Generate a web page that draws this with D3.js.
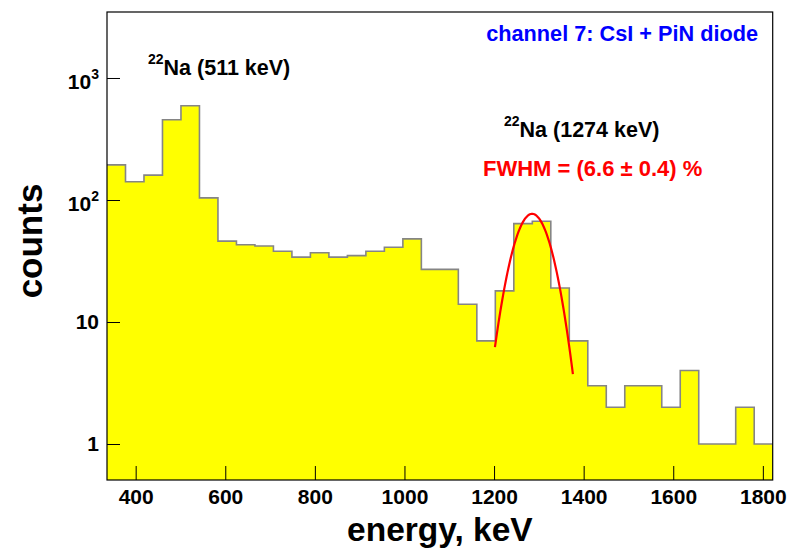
<!DOCTYPE html>
<html>
<head>
<meta charset="utf-8">
<script src="https://cdn.jsdelivr.net/npm/d3@7"></script>
<style>
  body { margin: 0; background: #fff; }
  svg text { font-family: "Liberation Sans", Arial, Helvetica, sans-serif; font-weight: bold; }
</style>
</head>
<body>
<svg id="chart" width="788" height="548"></svg>
<script>
// 22Na spectrum, channel 7 (CsI + PiN diode), 36 equal bins
var binLow = 336, binHigh = 1822;
var counts = [194, 141, 160, 455, 593, 104, 46, 43, 42, 38, 34, 37,
              34, 35, 38, 41, 48, 27, 27, 14, 7, 18, 64, 67,
              19, 7, 3, 2, 3, 3, 2, 4, 1, 1, 2, 1];

var xTicks = [400, 600, 800, 1000, 1200, 1400, 1600, 1800];
var yTicks = [1, 10, 100, 1000];
var yTickBase = ["1", "10", "10", "10"];
var yTickExp = ["", "", "2", "3"];

// gaussian fit of the 1274 keV line
var fitAmp = 77, fitMean = 1285, fitSigma = 37;
var fitRange = [1202, 1377];

var svg = d3.select("#chart"),
    frameL = 107, frameT = 12, frameR = 772.7, frameB = 480;

var x = d3.scaleLinear().domain([binLow, binHigh]).range([frameL, frameR]);
var y = d3.scaleLog().domain([0.507, 3475]).range([frameB, frameT]);

var binWidth = (binHigh - binLow) / counts.length;
var steps = counts.map(function(c, i){ return {e: binLow + i * binWidth, c: c}; });
steps.push({e: binHigh, c: counts[counts.length - 1]});

// histogram fill + outline
var area = d3.area()
    .curve(d3.curveStepAfter)
    .x(function(d){ return x(d.e); })
    .y0(frameB)
    .y1(function(d){ return y(d.c); });

var line = d3.line()
    .curve(d3.curveStepAfter)
    .x(function(d){ return x(d.e); })
    .y(function(d){ return y(d.c); });

svg.append("path")
    .datum(steps)
    .attr("d", area)
    .attr("fill", "#ffff00");

svg.append("path")
    .datum(steps)
    .attr("d", line)
    .attr("fill", "none")
    .attr("stroke", "#858585")
    .attr("stroke-width", 1.6);

// fit curve
var fitPts = d3.range(fitRange[0], fitRange[1] + 0.1, 2).map(function(e){
  return {e: e, c: fitAmp * Math.exp(-Math.pow(e - fitMean, 2) / (2 * fitSigma * fitSigma))};
});
svg.append("path")
    .datum(fitPts)
    .attr("d", d3.line().x(function(d){ return x(d.e); }).y(function(d){ return y(d.c); }))
    .attr("fill", "none")
    .attr("stroke", "#ff0000")
    .attr("stroke-width", 2.2);

// axes, ticks pointing into the frame
var xMinor = d3.range(450, binHigh, 50).filter(function(v){ return v % 200 != 0; });
var yMinor = [];
[0.1, 1, 10, 100, 1000].forEach(function(dec){
  d3.range(2, 10).forEach(function(m){
    var v = dec * m;
    if (v > 0.507 && v < 3475) yMinor.push(v);
  });
});

var gx = svg.append("g").attr("transform", "translate(0," + frameB + ")");
gx.call(d3.axisBottom(x).tickValues(xMinor).tickSizeInner(-7).tickSizeOuter(0).tickFormat(""));
gx.call(d3.axisBottom(x).tickValues(xTicks).tickSizeInner(-14).tickSizeOuter(0).tickPadding(9).tickFormat(d3.format("d")));

var gy = svg.append("g").attr("transform", "translate(" + frameL + ",0)");
gy.call(d3.axisLeft(y).tickValues(yMinor).tickSizeInner(-7).tickSizeOuter(0).tickFormat(""));
gy.call(d3.axisLeft(y).tickValues(yTicks).tickSizeInner(-13).tickSizeOuter(0).tickPadding(8).tickFormat(function(d){ return d; }));

svg.selectAll(".domain").remove();
svg.selectAll(".tick line").attr("stroke", "#000");
gx.selectAll(".tick text").attr("font-size", 21).attr("fill", "#000");

gy.selectAll(".tick text")
    .attr("font-size", 21)
    .attr("fill", "#000")
    .each(function(d){
      var t = d3.select(this);
      var k = yTicks.indexOf(d);
      if (k < 0) return;
      t.text(yTickBase[k]);
      if (yTickExp[k] != ""){
        t.attr("dy", "0.48em");
        t.append("tspan").attr("font-size", 14).attr("dy", -10).text(yTickExp[k]);
      }
    });

// frame
svg.append("rect")
    .attr("x", frameL).attr("y", frameT)
    .attr("width", frameR - frameL).attr("height", frameB - frameT)
    .attr("fill", "none")
    .attr("stroke", "#000")
    .attr("stroke-width", 1.2);

// axis titles
svg.append("text")
    .attr("x", (frameL + frameR) / 2).attr("y", 541)
    .attr("text-anchor", "middle")
    .attr("font-size", 33.5)
    .text("energy, keV");

svg.append("text")
    .attr("transform", "translate(42,241) rotate(-90)")
    .attr("text-anchor", "middle")
    .attr("font-size", 35)
    .text("counts");

// annotations
svg.append("text")
    .attr("x", 758).attr("y", 41)
    .attr("text-anchor", "end")
    .attr("font-size", 21.7)
    .attr("fill", "#0000ff")
    .text("channel 7: CsI + PiN diode");

function isotopeLabel(xp, yp, txt){
  var t = svg.append("text").attr("x", xp).attr("y", yp).attr("font-size", 21.5);
  t.append("tspan").attr("font-size", 14).attr("dy", -11).text("22");
  t.append("tspan").attr("dy", 11).text(txt);
}
isotopeLabel(148, 75, "Na (511 keV)");
isotopeLabel(504, 137, "Na (1274 keV)");

svg.append("text")
    .attr("x", 483).attr("y", 176)
    .attr("font-size", 22)
    .attr("fill", "#ff0000")
    .text("FWHM = (6.6 \u00b1 0.4) %");
</script>
</body>
</html>
